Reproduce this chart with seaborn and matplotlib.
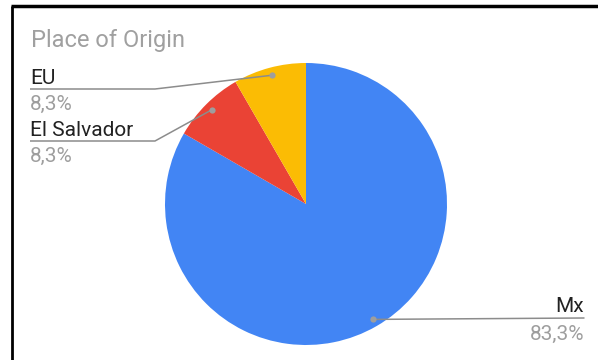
import numpy as np
import matplotlib
matplotlib.use("Agg")
import matplotlib.pyplot as plt
import seaborn as sns

# Data
categories = ["Mx", "El Salvador", "EU"]
counts = [10, 1, 1]
title = "Place of Origin"

sns.set_theme(style="white")
plt.rcParams["font.family"] = ["Roboto", "DejaVu Sans"]
colors = sns.color_palette(["#4285F4", "#EA4335", "#FBBC04"])

W, H = 598, 360
fig = plt.figure(figsize=(W / 100, H / 100), dpi=100)
ax = fig.add_axes([0, 0, 1, 1])

def py(y):
    """Convert a top-down pixel row to the axes' bottom-up coordinate."""
    return H - y

cx, cy, R = 306, py(204), 141
wedges, _ = ax.pie(counts, colors=colors, startangle=90, counterclock=False,
                   center=(cx, cy), radius=R, frame=True,
                   wedgeprops=dict(linewidth=0, antialiased=True))
ax.set_xlim(0, W)
ax.set_ylim(0, H)
ax.set_aspect("equal")
ax.axis("off")

total = sum(counts)
pcts = [100 * c / total for c in counts]

def fmt(p):
    return f"{p:.1f}%".replace(".", ",")

ax.text(31, py(40), title, fontsize=17, color="#a0a0a0", va="center", ha="left")

line_c = "#8c8c8c"
dot_c = "#9e9e9e"
name_c = "#222222"
pct_c = "#9e9e9e"
fs = 15

# Leader endpoints: slice midpoint angles near the rim
anchors = {}
for w, name in zip(wedges, categories):
    mid = np.deg2rad((w.theta1 + w.theta2) / 2)
    anchors[name] = (cx + 0.945 * R * np.cos(mid), cy + 0.945 * R * np.sin(mid))

# Left-side labels (stacked), right-side label for the big slice
left_layout = {"EU": 89, "El Salvador": 141}
for name, uy in left_layout.items():
    i = categories.index(name)
    dx, dy = anchors[name]
    ax.plot([30, 155, dx], [py(uy), py(uy), dy], color=line_c, lw=1.1,
            solid_capstyle="butt", zorder=3)
    ax.plot(dx, dy, "o", ms=4.5, color=dot_c, mec="none", zorder=4)
    ax.text(30, py(uy - 10), name, fontsize=fs, color=name_c, ha="left", va="center")
    ax.text(30, py(uy + 15), fmt(pcts[i]), fontsize=fs, color=pct_c, ha="left", va="center")

name = "Mx"
i = categories.index(name)
dx, dy = anchors[name]
ax.plot([dx, 584], [dy, py(318)], color=line_c, lw=1.1, zorder=3)
ax.plot(dx, dy, "o", ms=4.5, color=dot_c, mec="none", zorder=4)
ax.text(584, py(307), name, fontsize=fs, color=name_c, ha="right", va="center")
ax.text(584, py(334), fmt(pcts[i]), fontsize=fs, color=pct_c, ha="right", va="center")

# Frame edges (top and left)
ax.plot([11, W], [py(6), py(6)], color="black", lw=2.5, solid_capstyle="butt", clip_on=False)
ax.plot([11.5, 11.5], [py(6), 0], color="black", lw=2.0, solid_capstyle="butt", clip_on=False)

fig.savefig("out.png", dpi=100)
